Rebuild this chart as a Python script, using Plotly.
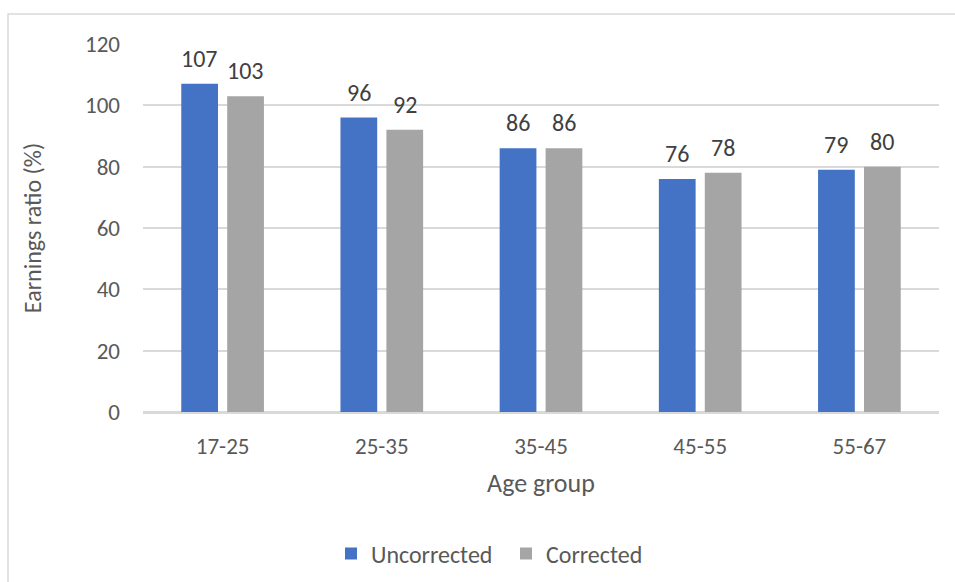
import plotly.graph_objects as go

# Earnings ratio by age group, before and after correction
age_groups = ["17-25", "25-35", "35-45", "45-55", "55-67"]
uncorrected = [107, 96, 86, 76, 79]
corrected = [103, 92, 86, 78, 80]
y_ticks = [0, 20, 40, 60, 80, 100, 120]

FONT = "Carlito, Lato, 'Noto Sans', sans-serif"
BLUE = "#4472C4"
GREY = "#A5A5A5"
GRID = "#D9D9D9"
TEXT = "#595959"

W, H = 955, 582
L, R, T, B = 143, 16, 44, 170
pw, ph = W - L - R, H - T - B


def px_to_paper_x(px):
    return (px - L) / pw


def px_to_paper_y(py):
    return (H - B - py) / ph


fig = go.Figure()
fig.add_trace(go.Bar(
    name="Uncorrected", x=age_groups, y=uncorrected,
    marker=dict(color=BLUE, line=dict(width=0)),
))
fig.add_trace(go.Bar(
    name="Corrected", x=age_groups, y=corrected,
    marker=dict(color=GREY, line=dict(width=0)),
))

# value labels above each bar, offset to the bar's slot in its group
annotations = []
for series, shift in ((uncorrected, -23), (corrected, 23)):
    for cat, val in zip(age_groups, series):
        annotations.append(dict(
            x=cat, y=val, xref="x", yref="y", text=str(val),
            showarrow=False, xanchor="center", yanchor="bottom",
            xshift=shift, yshift=9,
            font=dict(family=FONT, size=24, color="#404040"),
        ))

fig.update_layout(
    width=W, height=H,
    margin=dict(l=L, r=R, t=T, b=B, pad=0, autoexpand=False),
    paper_bgcolor="white", plot_bgcolor="white",
    barmode="group", bargap=0.423, bargroupgap=0.2,
    font=dict(family=FONT, size=23, color=TEXT),
    showlegend=True,
    legend=dict(
        orientation="h", x=px_to_paper_x(506), xanchor="center",
        y=px_to_paper_y(554), yanchor="middle",
        font=dict(family=FONT, size=24, color=TEXT),
        itemwidth=30, entrywidth=130, traceorder="normal",
    ),
    xaxis=dict(
        automargin=False,
        showgrid=False, showline=True, linecolor=GRID, linewidth=1.5,
        ticks="", tickfont=dict(family=FONT, size=23, color=TEXT),
        ticklabelstandoff=13,
        title=dict(text="Age group", standoff=14,
                   font=dict(family=FONT, size=26, color=TEXT)),
    ),
    yaxis=dict(
        automargin=False,
        range=[0, 120], tickvals=y_ticks,
        showgrid=True, gridcolor=GRID, gridwidth=1.5,
        zeroline=True, zerolinecolor=GRID, zerolinewidth=1.5,
        showline=False, ticks="",
        tickfont=dict(family=FONT, size=23, color=TEXT),
        ticklabelstandoff=22,
        title=dict(text="Earnings ratio (%)", standoff=36,
                   font=dict(family=FONT, size=24, color=TEXT)),
    ),
    annotations=annotations,
    shapes=[dict(
        type="rect", xref="paper", yref="paper",
        x0=px_to_paper_x(8), x1=px_to_paper_x(975),
        y0=px_to_paper_y(600), y1=px_to_paper_y(14),
        line=dict(color=GRID, width=1.5), fillcolor="rgba(0,0,0,0)",
        layer="below",
    )],
)

fig.write_html("out.html")
